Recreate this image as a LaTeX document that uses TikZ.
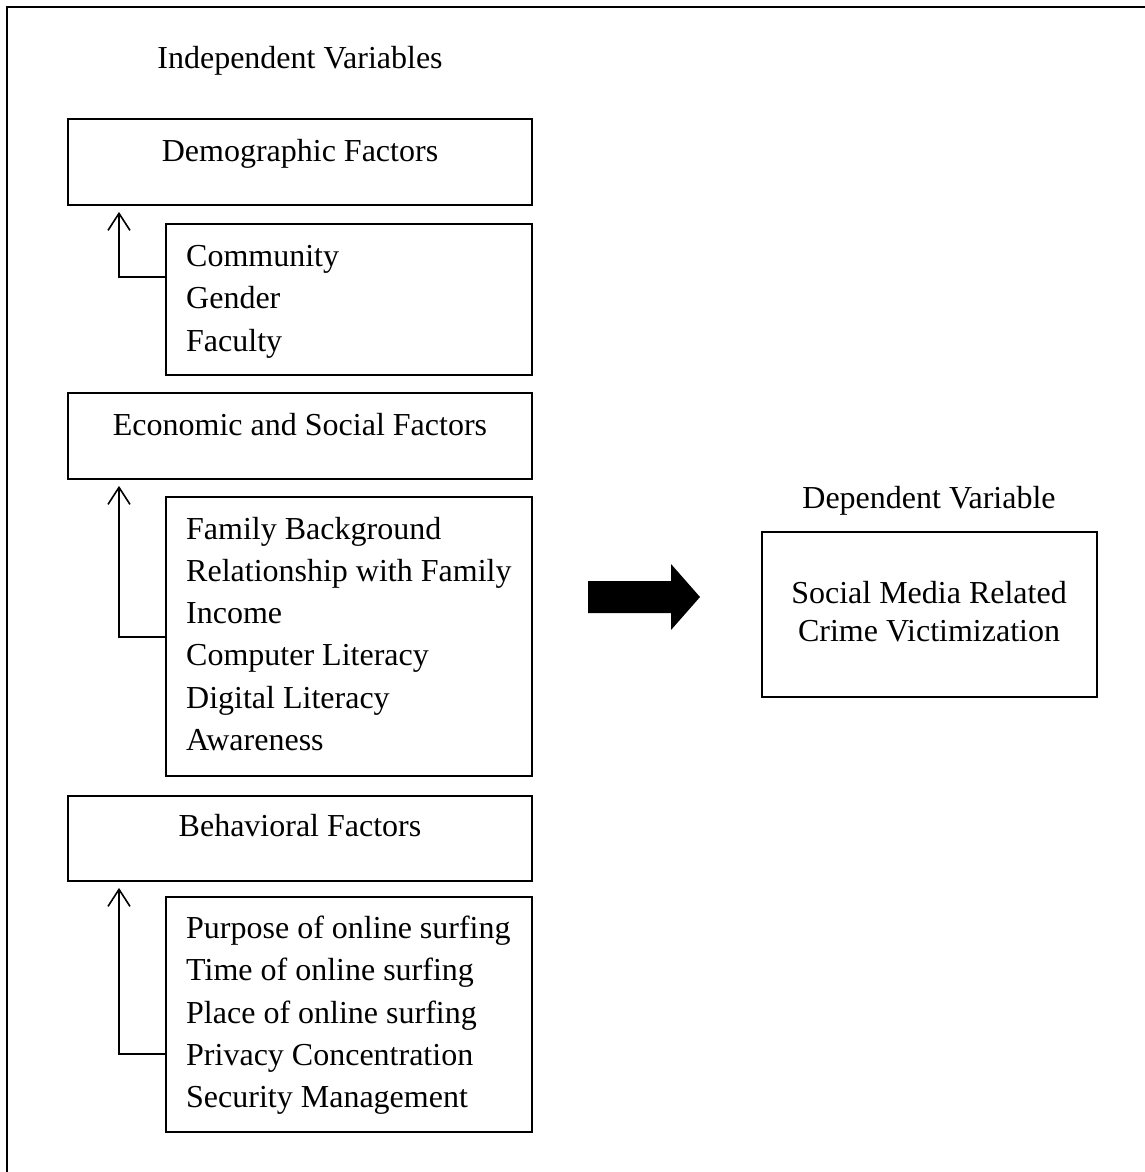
\documentclass[tikz,border=0pt]{standalone}
\usepackage{fontspec}
\setmainfont{Liberation Serif}
\usetikzlibrary{arrows.meta}
\begin{document}
\begin{tikzpicture}[x=1pt,y=-1pt,
  box/.style={draw, line width=1.8pt, rectangle, inner sep=0pt},
  lbl/.style={inner sep=0pt, anchor=base, font=\fontsize{32}{42}\selectfont},
  item/.style={inner sep=0pt, anchor=base west, font=\fontsize{32}{42}\selectfont},
  arr/.style={line width=1.6pt, -{Straight Barb[length=17pt,width=22pt,line width=1.6pt]}}]
\useasboundingbox (0,0) rectangle (1145,1172);
\clip (0,0) rectangle (1145,1172);
\fill[white] (0,0) rectangle (1145,1172);
% outer frame
\draw[line width=2.2pt] (7,1200) -- (7,7) -- (1200,7);

\node[lbl] (indep) at (300,69) {Independent Variables};

% group 1
\node[box, minimum width=464pt, minimum height=86pt] (demo) at (300,162) {};
\node[lbl] (demot) at (300,161) {Demographic Factors};
\node[box, minimum width=366pt, minimum height=151pt] (sub1) at (349,299.5) {};
\node[item] (c1) at (186,266) {Community};
\node[item] (c2) at (186,308) {Gender};
\node[item] (c3) at (186,351) {Faculty};
\draw[arr, shorten >=6pt] (sub1.west |- 0,277) -| (demo.south -| 119,0);

% group 2
\node[box, minimum width=464pt, minimum height=86pt] (econ) at (300,436) {};
\node[lbl] (econt) at (300,435) {Economic and Social Factors};
\node[box, minimum width=366pt, minimum height=279pt] (sub2) at (349,636.5) {};
\node[item] (e1) at (186,539) {Family Background};
\node[item] (e2) at (186,581) {Relationship with Family};
\node[item] (e3) at (186,623) {Income};
\node[item] (e4) at (186,665) {Computer Literacy};
\node[item] (e5) at (186,708) {Digital Literacy};
\node[item] (e6) at (186,750) {Awareness};
\draw[arr, shorten >=6pt] (sub2.west |- 0,637) -| (econ.south -| 119,0);

% group 3
\node[box, minimum width=464pt, minimum height=85pt] (behav) at (300,838.5) {};
\node[lbl] (behavt) at (300,836) {Behavioral Factors};
\node[box, minimum width=366pt, minimum height=235pt] (sub3) at (349,1014.5) {};
\node[item] (b1) at (186,938) {Purpose of online surfing};
\node[item] (b2) at (186,980) {Time of online surfing};
\node[item] (b3) at (186,1023) {Place of online surfing};
\node[item] (b4) at (186,1065) {Privacy Concentration};
\node[item] (b5) at (186,1107) {Security Management};
\draw[arr, shorten >=6pt] (sub3.west |- 0,1054) -| (behav.south -| 119,0);

% big arrow
\fill (588,581) -- (671,581) -- (671,564) -- (700,597) -- (671,630) -- (671,613) -- (588,613) -- cycle;

% dependent
\node[lbl] (dep) at (929,508) {Dependent Variable};
\node[box, minimum width=335pt, minimum height=165pt] (dv) at (929.5,614.5) {};
\node[lbl] (d1) at (929,603) {Social Media Related};
\node[lbl] (d2) at (929,641) {Crime Victimization};
\end{tikzpicture}
\end{document}
